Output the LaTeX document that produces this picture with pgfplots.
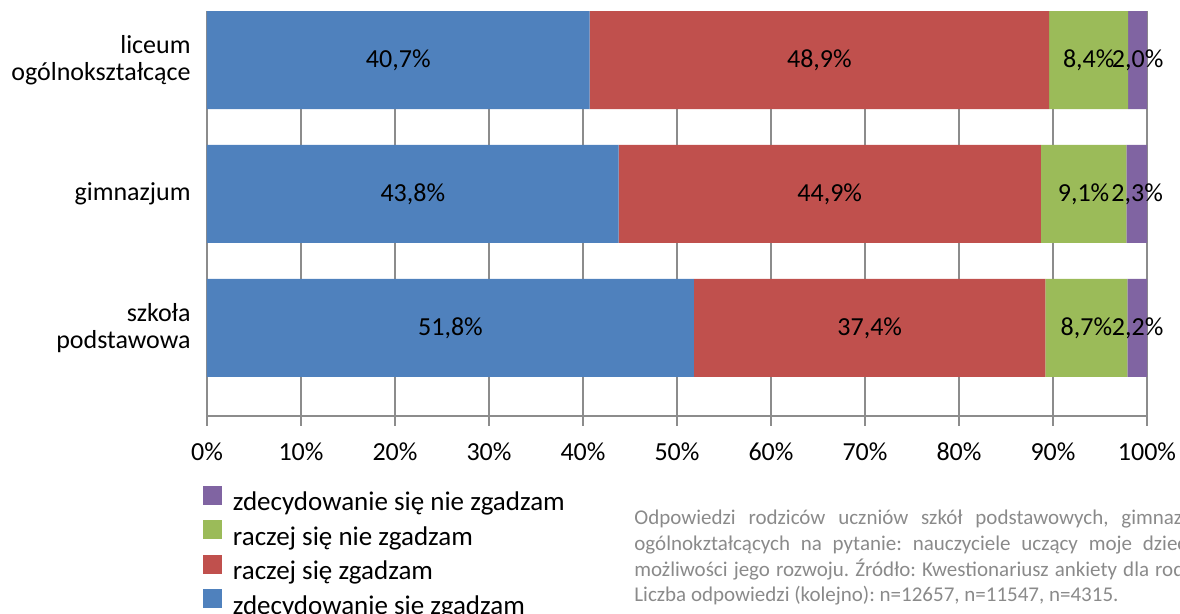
\documentclass[border=0pt]{standalone}
\usepackage{pgfplots}
\pgfplotsset{compat=1.18}
\usepackage{fontspec}
\setmainfont{Carlito}
\frenchspacing
\definecolor{cblue}{HTML}{4F81BD}
\definecolor{cred}{HTML}{C0504D}
\definecolor{cgreen}{HTML}{9BBB59}
\definecolor{cpurple}{HTML}{8064A2}
\definecolor{cgrid}{HTML}{8C8C8C}
\definecolor{ccap}{HTML}{8A8A8A}
\pgfplotsset{mygeom/.style={at={(103.5pt,99pt)}, anchor=south west,
  scale only axis, width=470pt, height=202.5pt,
  xmin=0, xmax=100, ymin=-0.657, ymax=2.366}}
\begin{document}
\begin{tikzpicture}[x=1pt,y=1pt]
\begin{axis}[
  mygeom,
  xbar stacked, bar width=49pt,
  axis lines*=left,
  axis line style={cgrid, line width=0.8pt},
  xtick={0,10,...,100},
  xticklabels={0\%,10\%,20\%,30\%,40\%,50\%,60\%,70\%,80\%,90\%,100\%},
  xticklabel style={font=\fontsize{13}{15}\selectfont, inner sep=0pt, yshift=-8pt},
  xmajorgrids, grid style={cgrid, line width=0.8pt},
  tick align=outside, major tick length=5pt,
  x tick style={cgrid, line width=0.8pt},
  ytick={0,1,2},
  yticklabels={{szkoła\\podstawowa},gimnazjum,{liceum\\ogólnokształcące}},
  yticklabel style={align=right, font=\fontsize{13}{13.5}\selectfont, inner sep=0pt, xshift=-3pt},
  y tick style={draw=none},
  legend style={at={(-0.0043,-0.1728)}, anchor=north west, draw=none, fill=none,
     inner sep=0pt, outer sep=0pt, row sep=1.75pt, column sep=5.5pt,
     font=\fontsize{13.5}{15}\selectfont,
     nodes={inner sep=0pt, text height=9pt, text depth=3pt}},
  legend cell align=left,
  reverse legend,
  legend image code/.code={\fill[#1] (0pt,0pt) rectangle (9.5pt,9.5pt);},
]
\addplot[fill=cblue, draw=none] coordinates {(51.8,0) (43.8,1) (40.7,2)};
\addplot[fill=cred, draw=none] coordinates {(37.4,0) (44.9,1) (48.9,2)};
\addplot[fill=cgreen, draw=none] coordinates {(8.7,0) (9.1,1) (8.4,2)};
\addplot[fill=cpurple, draw=none] coordinates {(2.2,0) (2.3,1) (2.0,2)};
\legend{zdecydowanie się zgadzam, raczej się zgadzam, raczej się nie zgadzam, zdecydowanie się nie zgadzam}
\end{axis}
% value labels, centred in each segment
\begin{axis}[mygeom, hide axis, clip=false]
\addplot[draw=none, mark=none, nodes near coords={\pgfplotspointmeta},
  point meta=explicit symbolic,
  every node near coord/.append style={anchor=center, inner sep=0pt, font=\fontsize{13}{15}\selectfont, black}]
  coordinates {
  (25.9,0) [51,8\%] (21.9,1) [43,8\%] (20.35,2) [40,7\%]
  (70.5,0) [37,4\%] (66.25,1) [44,9\%] (65.15,2) [48,9\%]
  (93.55,0) [8,7\%] (93.25,1) [9,1\%] (93.8,2) [8,4\%]
  (99.0,0) [2,2\%] (98.95,1) [2,3\%] (99.0,2) [2,0\%]
  };
\end{axis}
\begin{scope}[every node/.style={anchor=base west, inner sep=0pt, text=ccap, font=\fontsize{10.5}{12.85}\selectfont}]
\node at (317,44.5) {\makebox[274pt][s]{Odpowiedzi rodziców uczniów szkół podstawowych, gimnaz}};
\node at (317,31.5) {\makebox[276pt][s]{ogólnokztałcących na pytanie: nauczyciele uczący moje dziec}};
\node at (317,18.5) {\makebox[275pt][s]{możliwości jego rozwoju. Źródło: Kwestionariusz ankiety dla rod}};
\node at (317,6) {Liczba odpowiedzi (kolejno): n=12657, n=11547, n=4315.};
\end{scope}
\pgfresetboundingbox
\path[use as bounding box] (0,0) rectangle (590,307);
\end{tikzpicture}
\end{document}
